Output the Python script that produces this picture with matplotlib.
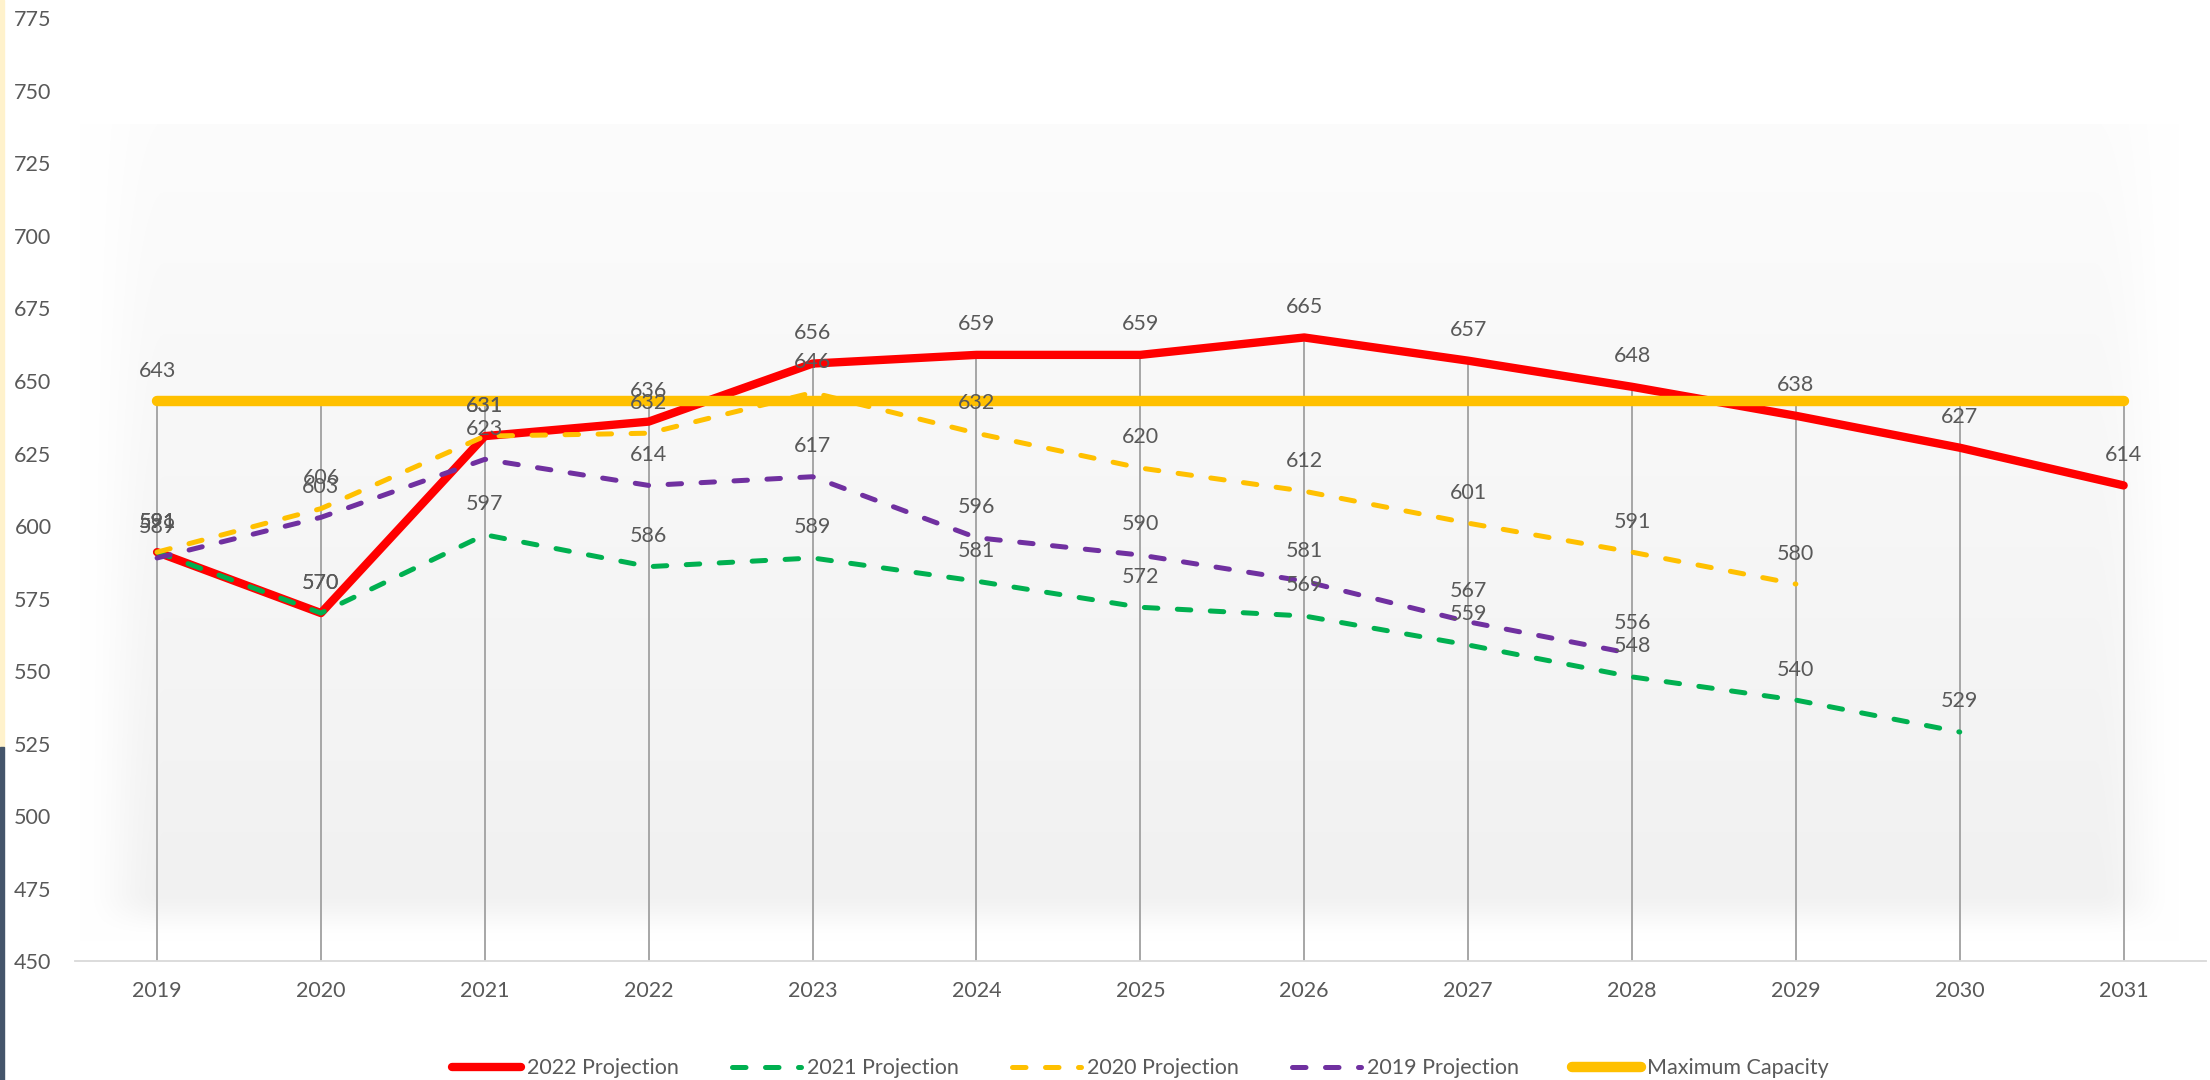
import numpy as np
import matplotlib.pyplot as plt
from matplotlib.patches import Rectangle

plt.rcParams['font.family'] = ['Lato', 'DejaVu Sans']

years = [str(y) for y in range(2019, 2032)]

proj_2022 = [591, 570, 631, 636, 656, 659, 659, 665, 657, 648, 638, 627, 614]
proj_2021 = [591, 570, 597, 586, 589, 581, 572, 569, 559, 548, 540, 529]
proj_2020 = [591, 606, 631, 632, 646, 632, 620, 612, 601, 591, 580]
proj_2019 = [589, 603, 623, 614, 617, 596, 590, 581, 567, 556]
max_capacity = [643] * 13

label_color = '#595959'
fs = 15.5

x = np.arange(len(years))

fig = plt.figure(figsize=(22.1, 10.8), dpi=100)
ax = fig.add_axes([0.034, 0.110, 0.964, 0.873])
ax.set_facecolor('none')

# soft grey gradient behind the plot, like the excel plot area
ny, nx = 300, 600
v = np.linspace(0, 1, ny)[:, None]
u = np.linspace(0, 1, nx)[None, :]

def smooth(t):
    t = np.clip(t, 0, 1)
    return t * t * (3 - 2 * t)

fade = smooth(u / 0.04) * smooth((1 - u) / 0.04) * smooth((1 - v) / 0.06)
shade = (0.012 + 0.045 * v) * fade
img = np.ones((ny, nx, 3)) * (1 - shade)[:, :, None]
ax.imshow(img, extent=(-0.48, 12.35, 456.7, 738.5), aspect='auto', zorder=0,
          interpolation='bilinear')

# drop lines from the highest point in each year
all_series = [proj_2022, proj_2021, proj_2020, proj_2019, max_capacity]
tops = [max(s[i] for s in all_series if i < len(s)) for i in range(len(years))]
ax.vlines(x, 450, tops, color='#a6a6a6', lw=1.4, zorder=1)

dash = (2.7, 3.9)
ax.plot(x[:len(proj_2022)], proj_2022, color='#FF0000', lw=6,
        solid_capstyle='round', label='2022 Projection', zorder=2)
ax.plot(x[:len(proj_2021)], proj_2021, color='#00B050', lw=3.6,
        dashes=dash, dash_capstyle='round', label='2021 Projection', zorder=3)
ax.plot(x[:len(proj_2020)], proj_2020, color='#FFC000', lw=3.6,
        dashes=dash, dash_capstyle='round', label='2020 Projection', zorder=3)
ax.plot(x[:len(proj_2019)], proj_2019, color='#7030A0', lw=3.6,
        dashes=dash, dash_capstyle='round', label='2019 Projection', zorder=3)
ax.plot(x, max_capacity, color='#FFC000', lw=7.5,
        solid_capstyle='round', label='Maximum Capacity', zorder=4)

# data labels
for s in [proj_2022, proj_2021, proj_2020, proj_2019]:
    for xi, val in zip(x, s):
        ax.annotate(str(val), (xi, val), xytext=(0, 22), textcoords='offset points',
                    ha='center', va='center', fontsize=fs, color=label_color, zorder=6)
ax.annotate(str(max_capacity[0]), (x[0], max_capacity[0]), xytext=(0, 22),
            textcoords='offset points', ha='center', va='center',
            fontsize=fs, color=label_color, zorder=6)

ax.set_xlim(-0.5, 12.5)
ax.set_ylim(450, 775)
ax.set_yticks(range(450, 776, 25))
ax.set_xticks(x, years)

for side in ['top', 'right', 'left']:
    ax.spines[side].set_visible(False)
ax.spines['bottom'].set_color('#d9d9d9')
ax.spines['bottom'].set_linewidth(1.3)
ax.tick_params(axis='both', length=0, labelsize=fs, labelcolor=label_color)
ax.tick_params(axis='y', pad=17)
ax.tick_params(axis='x', pad=14)

handles, labels = ax.get_legend_handles_labels()
leg = fig.legend(handles, labels, loc='center', bbox_to_anchor=(0.516, 0.011),
                 ncol=5, frameon=False, fontsize=fs, handlelength=3.2,
                 columnspacing=2.45, handletextpad=0.3)
for t in leg.get_texts():
    t.set_color(label_color)

# thin strips on the left edge of the screenshot
fig.patches.append(Rectangle((0, 0.308), 4 / 2210, 0.692, transform=fig.transFigure,
                             color='#FFF2CC', zorder=0))
fig.patches.append(Rectangle((0, 0), 4 / 2210, 0.308, transform=fig.transFigure,
                             color='#44546A', zorder=0))

fig.savefig('out.png', dpi=100)
